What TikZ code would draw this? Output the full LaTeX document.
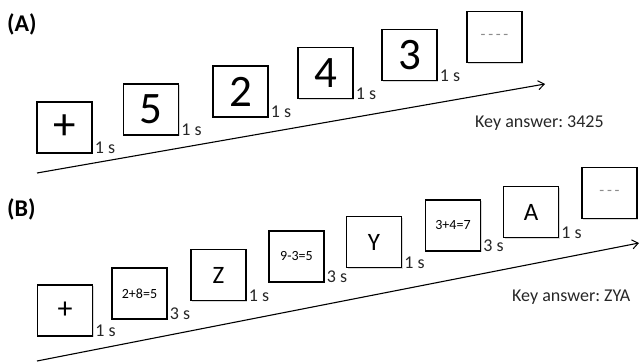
\documentclass[tikz,border=0pt]{standalone}
\usepackage{fontspec}
\setmainfont{Carlito}
\usetikzlibrary{arrows.meta,shadows}
\frenchspacing
\begin{document}
\begin{tikzpicture}[x=1pt,y=-1pt,
  stim/.style={draw=black,line width=1.5pt,fill=white,inner sep=0pt,
    minimum width=55pt,minimum height=51pt,
    drop shadow={shadow xshift=1.3pt,shadow yshift=-1.3pt,fill=black!30}},
  big/.style={font=\fontsize{45}{45}\selectfont},
  mid/.style={font=\fontsize{25}{25}\selectfont},
  small/.style={font=\fontsize{14}{14}\selectfont},
  dur/.style={font=\fontsize{18}{18}\selectfont,anchor=base west,inner sep=0pt,text=black!85},
  keyans/.style={font=\fontsize{18}{18}\selectfont,anchor=base west,inner sep=0pt,text=black!85},
  panel/.style={font=\bfseries\fontsize{24}{24}\selectfont,anchor=base west,inner sep=0pt},
  timeline/.style={line width=1.1pt,-{Straight Barb[length=6pt,width=9pt,line width=1pt]}},
  blank/.style={text=black!45}]
\useasboundingbox (0,0) rectangle (640,364);
% Panel A
\node[panel] (la) at (7,31) {(A)};
\node[stim,big] (a1) at (64.5,127.5) {+};
\node[stim,big] (a2) at (151,109.5) {5};
\node[stim,big] (a3) at (240.5,91.5) {2};
\node[stim,big] (a4) at (325.5,73) {4};
\node[stim,big] (a5) at (409.5,55) {3};
\node[stim,blank,font=\fontsize{16}{16}\selectfont] (a6) at (494.5,37) {-\,-\,-\,-};
\foreach \n in {a1,a2,a3,a4,a5}
  \node[dur] at ([xshift=2pt]\n.south east) {1 s};
\coordinate (as) at (37,173);
\coordinate (ae) at (545,84);
\draw[timeline] (as) -- (ae);
\node[keyans] (ka) at (475,127) {Key answer: 3425};
% Panel B
\node[panel] (lb) at (7,216) {(B)};
\node[stim,font=\fontsize{30}{30}\selectfont] (b1) at (65,310.5) {+};
\node[stim,small] (b2) at (139.5,293.5) {2+8=5};
\node[stim,mid] (b3) at (218.5,275) {Z};
\node[stim,small] (b4) at (296.5,256.5) {9-3=5};
\node[stim,mid] (b5) at (374,242) {Y};
\node[stim,small] (b6) at (453,225.5) {3+4=7};
\node[stim,mid] (b7) at (531,212) {A};
\node[stim,blank,font=\fontsize{16}{16}\selectfont] (b8) at (609.5,193) {-\,-\,-};
\node[dur] at ([xshift=2pt]b1.south east) {1 s};
\node[dur] at ([xshift=2pt]b2.south east) {3 s};
\node[dur] at ([xshift=2pt]b3.south east) {1 s};
\node[dur] at ([xshift=2pt]b4.south east) {3 s};
\node[dur] at ([xshift=2pt]b5.south east) {1 s};
\node[dur] at ([xshift=2pt]b6.south east) {3 s};
\node[dur] at ([xshift=2pt]b7.south east) {1 s};
\coordinate (bs) at (37,361);
\coordinate (be) at (639,243);
\draw[timeline] (bs) -- (be);
\node[keyans] (kb) at (512,301) {Key answer: ZYA};
\end{tikzpicture}
\end{document}
